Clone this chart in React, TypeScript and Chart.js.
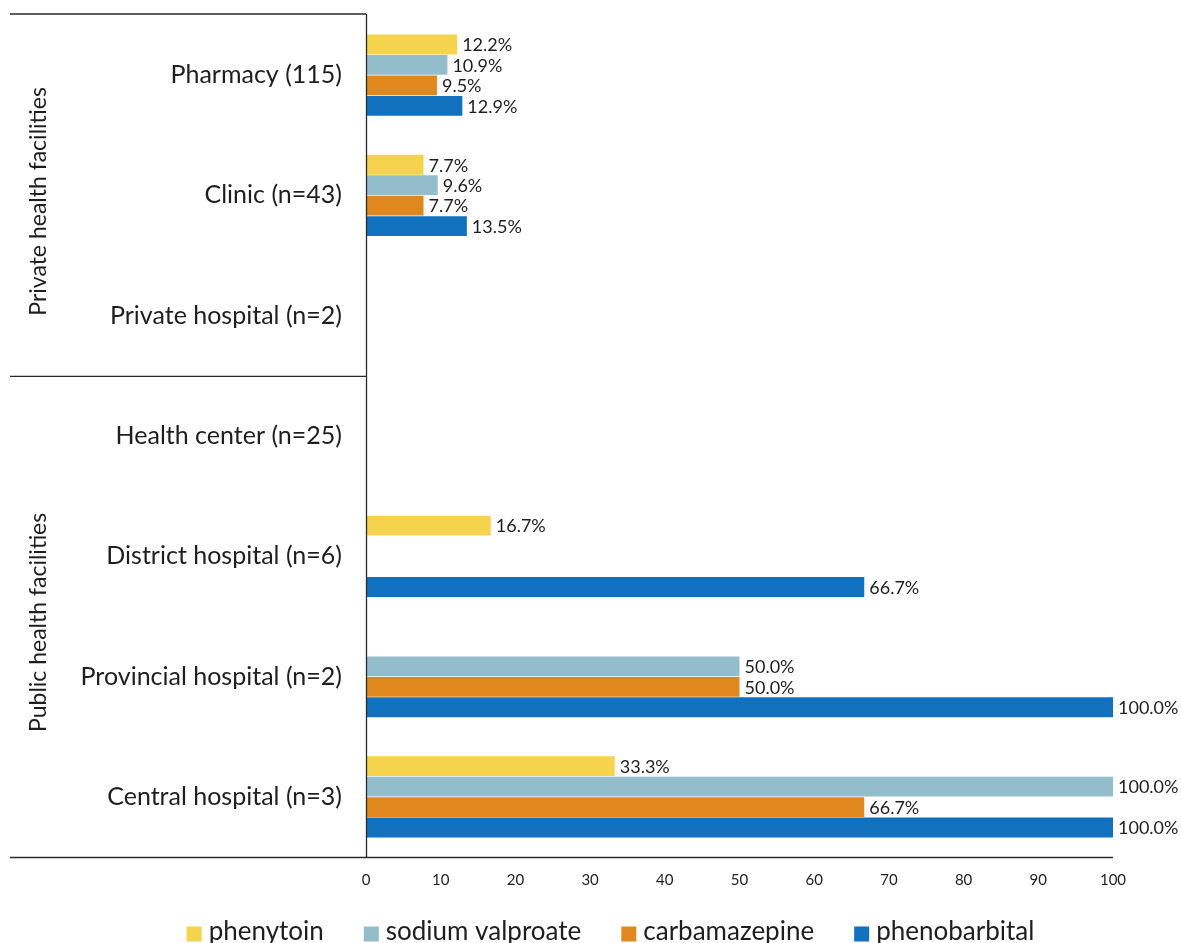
import React, { useEffect, useRef } from "react";
import { Chart, registerables } from "chart.js";

Chart.register(...registerables);

const categories = [
  "Pharmacy (115)",
  "Clinic (n=43)",
  "Private hospital (n=2)",
  "Health center (n=25)",
  "District hospital (n=6)",
  "Provincial hospital (n=2)",
  "Central hospital (n=3)",
];

const phenytoin = [12.2, 7.7, null, null, 16.7, null, 33.3];
const sodiumValproate = [10.9, 9.6, null, null, null, 50.0, 100.0];
const carbamazepine = [9.5, 7.7, null, null, null, 50.0, 66.7];
const phenobarbital = [12.9, 13.5, null, null, 66.7, 100.0, 100.0];

const xTicks = [0, 10, 20, 30, 40, 50, 60, 70, 80, 90, 100];

const seriesNames = ["phenytoin", "sodium valproate", "carbamazepine", "phenobarbital"];
const seriesColors = ["#F5D34C", "#93BDCB", "#E0881E", "#1271BE"];

const groups = [
  { label: "Private health facilities", from: 0, to: 2 },
  { label: "Public health facilities", from: 3, to: 6 },
];

const FONT = "Lato, 'Open Sans', sans-serif";
const TEXT = "#1e1e1e";

const decorPlugin = {
  id: "decor",
  afterDatasetsDraw(chart: any) {
    const ctx = chart.ctx;
    ctx.save();
    ctx.font = `18px ${FONT}`;
    ctx.fillStyle = TEXT;
    ctx.textAlign = "left";
    ctx.textBaseline = "middle";
    chart.data.datasets.forEach((ds: any, di: number) => {
      const meta = chart.getDatasetMeta(di);
      meta.data.forEach((bar: any, i: number) => {
        const v = ds.data[i];
        if (v === null || v === undefined) return;
        ctx.fillText(v.toFixed(1) + "%", bar.x + 5, bar.y + 1);
      });
    });
    ctx.restore();
  },
  afterDraw(chart: any) {
    const ctx = chart.ctx;
    const area = chart.chartArea;
    const y = chart.scales.y;
    const leftX = 10;
    ctx.save();
    ctx.strokeStyle = "#2a2a2a";
    ctx.lineWidth = 1.3;
    ctx.beginPath();
    ctx.moveTo(area.left + 0.5, area.top - 1);
    ctx.lineTo(area.left + 0.5, area.bottom);
    ctx.stroke();
    ctx.beginPath();
    ctx.moveTo(leftX, area.bottom + 0.5);
    ctx.lineTo(area.right, area.bottom + 0.5);
    ctx.stroke();
    ctx.beginPath();
    ctx.moveTo(leftX, area.top - 1);
    ctx.lineTo(area.left, area.top - 1);
    ctx.stroke();
    const step = y.getPixelForValue(1) - y.getPixelForValue(0);
    groups.forEach((g, gi) => {
      const top = y.getPixelForValue(g.from) - step / 2;
      const bottom = y.getPixelForValue(g.to) + step / 2;
      if (gi > 0) {
        ctx.beginPath();
        ctx.moveTo(leftX, top + 0.5);
        ctx.lineTo(area.left, top + 0.5);
        ctx.stroke();
      }
      ctx.save();
      ctx.translate(39, (top + bottom) / 2 + 6);
      ctx.rotate(-Math.PI / 2);
      ctx.font = `23px ${FONT}`;
      ctx.fillStyle = TEXT;
      ctx.textAlign = "center";
      ctx.textBaseline = "middle";
      ctx.fillText(g.label, 0, 0);
      ctx.restore();
    });

    // legend
    const fontSize = 26;
    const box = 15;
    const boxGap = 7;
    const itemGap = 40;
    ctx.font = `${fontSize}px ${FONT}`;
    const widths = seriesNames.map((n) => ctx.measureText(n).width);
    const total =
      widths.reduce((a, b) => a + b, 0) + seriesNames.length * (box + boxGap) + (seriesNames.length - 1) * itemGap;
    let x = chart.width / 2 + 20 - total / 2;
    const ly = 932;
    ctx.textAlign = "left";
    ctx.textBaseline = "middle";
    seriesNames.forEach((n, i) => {
      ctx.fillStyle = seriesColors[i];
      ctx.fillRect(x, ly + 2 - box / 2, box, box);
      ctx.fillStyle = TEXT;
      ctx.fillText(n, x + box + boxGap, ly);
      x += box + boxGap + widths[i] + itemGap;
    });
    ctx.restore();
  },
};

export default function App() {
  const ref = useRef<HTMLCanvasElement | null>(null);
  useEffect(() => {
    if (!ref.current) return;
    const data = [phenytoin, sodiumValproate, carbamazepine, phenobarbital];
    const chart = new Chart(ref.current, {
      type: "bar",
      data: {
        labels: categories,
        datasets: seriesNames.map((name, i) => ({
          label: name,
          data: data[i] as any,
          backgroundColor: seriesColors[i],
          borderWidth: 0,
          categoryPercentage: 0.68,
          barPercentage: 0.97,
        })),
      },
      options: {
        indexAxis: "y",
        animation: false,
        responsive: false,
        maintainAspectRatio: false,
        layout: { padding: { left: 41, right: 68, top: 15, bottom: 0 } },
        plugins: {
          tooltip: { enabled: false },
          legend: { display: false },
        },
        scales: {
          x: {
            min: 0,
            max: 100,
            afterBuildTicks: (s: any) => {
              s.ticks = xTicks.map((v) => ({ value: v }));
            },
            ticks: {
              font: { family: FONT, size: 15 },
              color: TEXT,
              padding: 14,
            },
            grid: { display: false, drawTicks: false },
            border: { display: false },
            afterFit: (s: any) => {
              s.height = 86;
              s.paddingLeft = 0;
            },
          },
          y: {
            ticks: {
              font: { family: FONT, size: 25 },
              color: TEXT,
              padding: 24,
            },
            grid: { display: false, drawTicks: false },
            border: { display: false },
            afterFit: (s: any) => {
              s.width = 325;
              s.paddingTop = 0;
              s.paddingBottom = 0;
            },
          },
        },
      },
      plugins: [decorPlugin],
    });
    return () => chart.destroy();
  }, []);
  return (
    <div style={{ position: "fixed", left: 0, top: 0, width: 1181, height: 943, overflow: "hidden", background: "#fff" }}>
      <canvas ref={ref} width={1181} height={943} style={{ display: "block" }} />
    </div>
  );
}
